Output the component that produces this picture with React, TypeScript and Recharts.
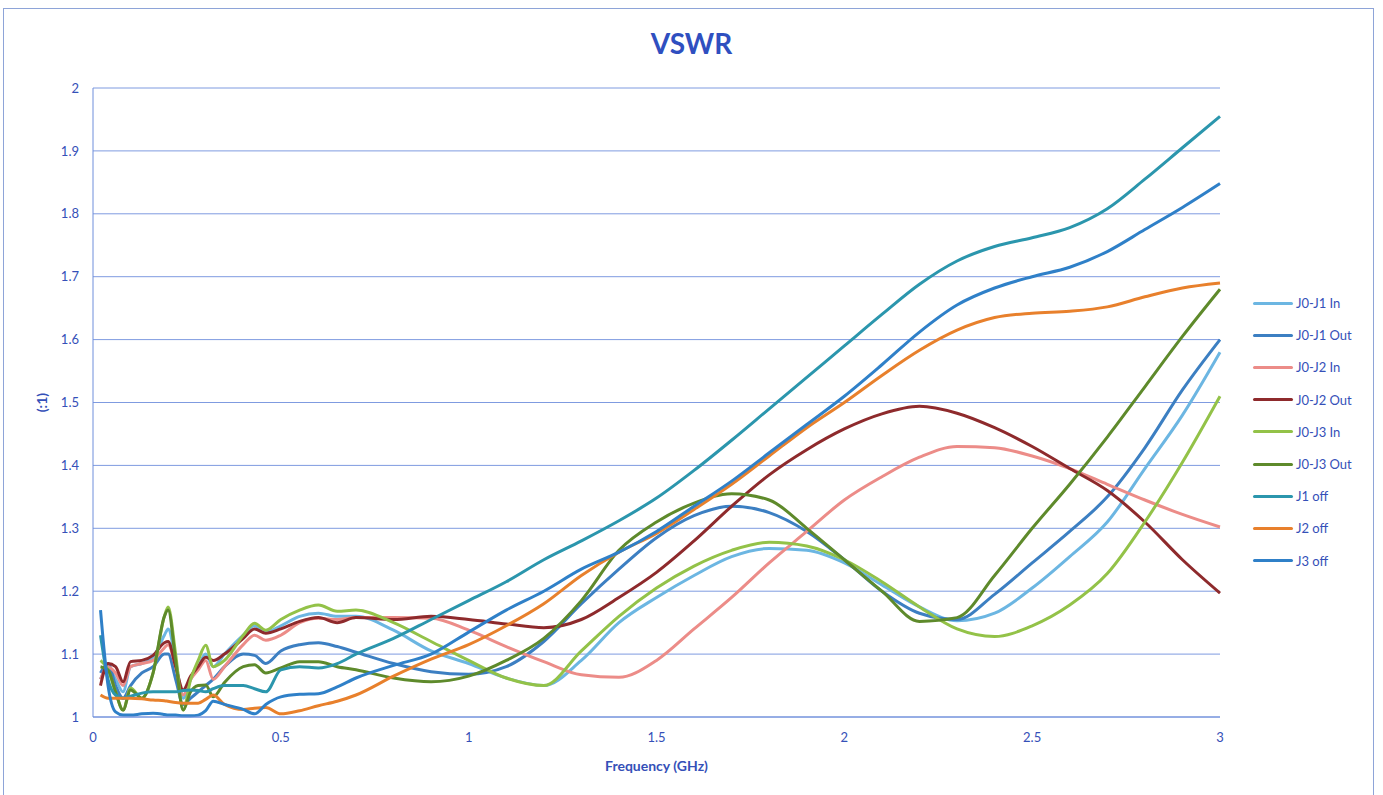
import React from "react";
import {
  LineChart,
  Line,
  XAxis,
  YAxis,
  CartesianGrid,
  Legend,
  Label,
} from "recharts";

// frequency points (GHz)
const FREQ = [
  0.02, 0.04, 0.06, 0.08, 0.1, 0.13, 0.16, 0.19, 0.2, 0.22, 0.24, 0.26, 0.28,
  0.3, 0.32, 0.35, 0.4, 0.43, 0.46, 0.5, 0.55, 0.6, 0.65, 0.7, 0.8, 0.9, 1.0,
  1.1, 1.2, 1.3, 1.4, 1.5, 1.6, 1.7, 1.8, 1.9, 2.0, 2.1, 2.2, 2.3, 2.4, 2.5,
  2.6, 2.7, 2.8, 2.9, 3.0,
];

const J0J1_IN = [
  1.06, 1.08, 1.06, 1.04, 1.08, 1.085, 1.095, 1.13, 1.14, 1.09, 1.03, 1.06,
  1.08, 1.1, 1.08, 1.1, 1.13, 1.145, 1.135, 1.145, 1.16, 1.165, 1.16, 1.16,
  1.138, 1.105, 1.085, 1.062, 1.05, 1.09, 1.15, 1.19, 1.225, 1.255, 1.268,
  1.265, 1.245, 1.21, 1.175, 1.153, 1.165, 1.205, 1.255, 1.31, 1.395, 1.48,
  1.58,
];
const J0J1_OUT = [
  1.07, 1.085, 1.05, 1.03, 1.05, 1.07, 1.08, 1.1, 1.1, 1.06, 1.02, 1.03, 1.04,
  1.05, 1.06, 1.08, 1.1, 1.098, 1.085, 1.105, 1.115, 1.118, 1.112, 1.103,
  1.085, 1.072, 1.068, 1.08, 1.12, 1.18, 1.235, 1.285, 1.32, 1.335, 1.325,
  1.295, 1.25, 1.2, 1.165, 1.155, 1.195, 1.245, 1.295, 1.35, 1.428, 1.52, 1.6,
];
const J0J2_IN = [
  1.06, 1.08, 1.07, 1.05, 1.08, 1.085, 1.09, 1.11, 1.115, 1.08, 1.035, 1.06,
  1.075, 1.09, 1.06, 1.08, 1.115, 1.13, 1.122, 1.13, 1.15, 1.157, 1.155,
  1.158, 1.158, 1.157, 1.138, 1.112, 1.088, 1.067, 1.063, 1.09, 1.14, 1.19,
  1.245, 1.295, 1.345, 1.382, 1.413, 1.43, 1.428, 1.415, 1.395, 1.37, 1.345,
  1.322, 1.302,
];
const J0J2_OUT = [
  1.05, 1.085, 1.08, 1.056, 1.088, 1.09, 1.098, 1.118, 1.12, 1.08, 1.043,
  1.065, 1.08, 1.095, 1.09, 1.1, 1.125, 1.14, 1.133, 1.14, 1.152, 1.158, 1.15,
  1.158, 1.155, 1.16, 1.155, 1.148, 1.142, 1.155, 1.19, 1.23, 1.28, 1.335,
  1.385, 1.425, 1.458, 1.482, 1.494, 1.483, 1.46, 1.43, 1.395, 1.36, 1.31,
  1.25, 1.197,
];
const J0J3_IN = [
  1.09, 1.075, 1.04, 1.011, 1.046, 1.03, 1.07, 1.16, 1.175, 1.1, 1.011, 1.06,
  1.09, 1.114, 1.08, 1.09, 1.13, 1.149, 1.138, 1.155, 1.17, 1.178, 1.168,
  1.17, 1.15, 1.12, 1.09, 1.062, 1.05, 1.105, 1.16, 1.205, 1.24, 1.265, 1.278,
  1.272, 1.25, 1.215, 1.175, 1.14, 1.128, 1.145, 1.178, 1.228, 1.31, 1.405,
  1.51,
];
const J0J3_OUT = [
  1.08, 1.075, 1.04, 1.011, 1.043, 1.03, 1.07, 1.16, 1.17, 1.09, 1.011, 1.04,
  1.05, 1.051, 1.032, 1.055, 1.08, 1.083, 1.07, 1.078, 1.088, 1.088, 1.08,
  1.075, 1.062, 1.056, 1.065, 1.09, 1.125, 1.185, 1.265, 1.31, 1.34, 1.355,
  1.345, 1.3, 1.25, 1.2, 1.152, 1.158, 1.225, 1.3, 1.37, 1.445, 1.525, 1.605,
  1.68,
];
const J1_OFF = [
  1.13, 1.06, 1.035, 1.03, 1.033, 1.038, 1.04, 1.04, 1.04, 1.04, 1.042, 1.043,
  1.042, 1.04, 1.045, 1.05, 1.05, 1.045, 1.04, 1.075, 1.08, 1.078, 1.085, 1.1,
  1.125, 1.155, 1.185, 1.215, 1.25, 1.28, 1.312, 1.348, 1.392, 1.44, 1.49,
  1.54, 1.59, 1.64, 1.688, 1.725, 1.748, 1.762, 1.778, 1.808, 1.855, 1.905,
  1.955,
];
const J2_OFF = [
  1.035, 1.03, 1.03, 1.03, 1.03, 1.029, 1.027, 1.026, 1.025, 1.023, 1.022,
  1.022, 1.022, 1.028, 1.035, 1.02, 1.012, 1.014, 1.015, 1.005, 1.01, 1.018,
  1.025, 1.035, 1.065, 1.092, 1.115, 1.145, 1.18, 1.225, 1.262, 1.292, 1.33,
  1.37, 1.415, 1.46, 1.5, 1.543, 1.583, 1.615, 1.635, 1.642, 1.645, 1.652,
  1.668, 1.682, 1.69,
];
const J3_OFF = [
  1.17, 1.05, 1.008, 1.003, 1.003, 1.005, 1.006, 1.004, 1.003, 1.003, 1.002,
  1.002, 1.003, 1.01, 1.025, 1.02, 1.012, 1.005, 1.02, 1.032, 1.036, 1.037,
  1.048, 1.062, 1.082, 1.1, 1.135, 1.17, 1.2, 1.235, 1.262, 1.295, 1.335,
  1.375, 1.42, 1.465, 1.51, 1.56, 1.612, 1.655, 1.682, 1.7, 1.715, 1.74,
  1.775, 1.81, 1.848,
];

const X_TICKS = [0, 0.5, 1, 1.5, 2, 2.5, 3];
const Y_TICKS = [1, 1.1, 1.2, 1.3, 1.4, 1.5, 1.6, 1.7, 1.8, 1.9, 2];

const SERIES = [
  { key: "j01in", name: "J0-J1 In", color: "#6cb6e2", values: J0J1_IN },
  { key: "j01out", name: "J0-J1 Out", color: "#3c7fc2", values: J0J1_OUT },
  { key: "j02in", name: "J0-J2 In", color: "#ec8c88", values: J0J2_IN },
  { key: "j02out", name: "J0-J2 Out", color: "#8e2a2c", values: J0J2_OUT },
  { key: "j03in", name: "J0-J3 In", color: "#93c248", values: J0J3_IN },
  { key: "j03out", name: "J0-J3 Out", color: "#5e8a2b", values: J0J3_OUT },
  { key: "j1off", name: "J1 off", color: "#2b96ad", values: J1_OFF },
  { key: "j2off", name: "J2 off", color: "#e8802c", values: J2_OFF },
  { key: "j3off", name: "J3 off", color: "#2f80c8", values: J3_OFF },
];

const rows = FREQ.map((f, i) => {
  const row: Record<string, number> = { f };
  SERIES.forEach((s) => {
    row[s.key] = s.values[i];
  });
  return row;
});

const FONT = "Lato, 'Open Sans', sans-serif";
const TEXT = "#3550b8";

const LegendBox = () => (
  <div style={{ fontFamily: FONT }}>
    {SERIES.map((s) => (
      <div
        key={s.key}
        style={{ display: "flex", alignItems: "center", height: 32.2 }}
      >
        <span
          style={{
            display: "inline-block",
            width: 40,
            height: 3,
            borderRadius: 2,
            background: s.color,
            marginRight: 3,
          }}
        />
        <span style={{ color: TEXT, fontSize: 13 }}>{s.name}</span>
      </div>
    ))}
  </div>
);

const App: React.FC = () => {
  return (
    <div
      style={{
        position: "absolute",
        left: 0,
        top: 0,
        width: 1383,
        height: 795,
        background: "#fff",
        overflow: "hidden",
      }}
    >
      <div
        style={{
          position: "absolute",
          left: 3,
          top: 8,
          width: 1369,
          height: 800,
          border: "1px solid #8ea4d8",
        }}
      />
      <div
        style={{
          position: "absolute",
          left: 0,
          width: 1383,
          top: 26,
          textAlign: "center",
          fontFamily: FONT,
          fontWeight: 700,
          fontSize: 28,
          color: "#2f4fc0",
        }}
      >
        VSWR
      </div>
      <div style={{ position: "absolute", left: 0, top: 0 }}>
        <LineChart
          width={1383}
          height={795}
          data={rows}
          margin={{ top: 88, right: 163, bottom: 48, left: 33 }}
        >
          <CartesianGrid vertical={false} stroke="#7f9be0" strokeWidth={1} />
          <XAxis
            dataKey="f"
            type="number"
            domain={[0, 3]}
            ticks={X_TICKS}
            tickLine={false}
            tickMargin={10}
            axisLine={{ stroke: "#6f8edb" }}
            tick={{ fill: TEXT, fontSize: 13, fontFamily: FONT }}
            height={30}
          >
            <Label
              value="Frequency (GHz)"
              position="bottom"
              offset={14}
              style={{
                fill: TEXT,
                fontSize: 14,
                fontWeight: 700,
                fontFamily: FONT,
              }}
            />
          </XAxis>
          <YAxis
            type="number"
            domain={[1, 2]}
            ticks={Y_TICKS}
            tickLine={false}
            tickMargin={8}
            width={60}
            axisLine={{ stroke: "#6f8edb" }}
            tick={{ fill: TEXT, fontSize: 13, fontFamily: FONT }}
            tickFormatter={(v: number) => String(Math.round(v * 10) / 10)}
          >
            <Label
              value="(:1)"
              angle={-90}
              position="insideLeft"
              offset={9}
              style={{
                fill: TEXT,
                fontSize: 14,
                fontWeight: 700,
                fontFamily: FONT,
                textAnchor: "middle",
              }}
            />
          </YAxis>
          <Legend
            layout="horizontal"
            align="center"
            verticalAlign="middle"
            content={<LegendBox />}
            wrapperStyle={{
              position: "absolute",
              left: 1253,
              top: 287,
              width: 120,
              bottom: "auto",
              right: "auto",
            }}
          />
          {SERIES.map((s) => (
            <Line
              key={s.key}
              type="monotone"
              dataKey={s.key}
              name={s.name}
              stroke={s.color}
              strokeWidth={3}
              dot={false}
              activeDot={false}
              isAnimationActive={false}
            />
          ))}
        </LineChart>
      </div>
    </div>
  );
};

export default App;
